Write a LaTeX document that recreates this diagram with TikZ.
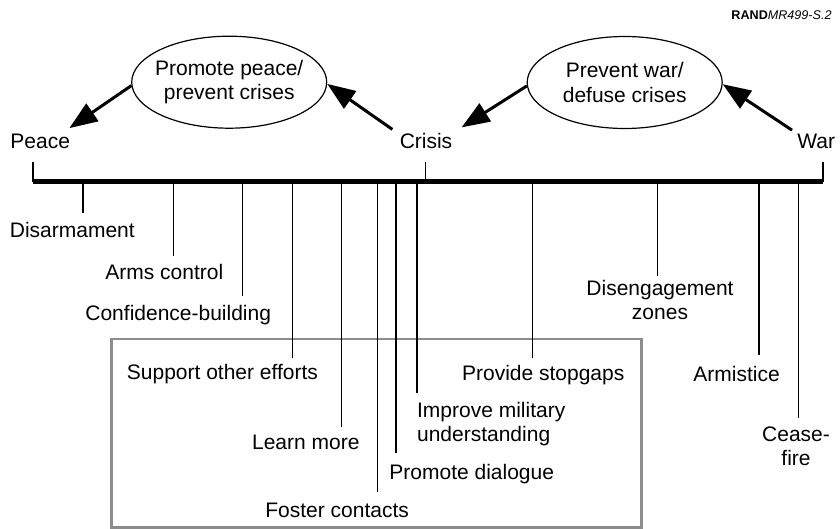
\documentclass[tikz,border=0pt]{standalone}
\usepackage{fontspec}
\setmainfont{Liberation Sans}
\usetikzlibrary{arrows.meta,shapes.geometric}
\begin{document}
\begin{tikzpicture}[x=0.5pt,y=-0.5pt,
  lbl/.style={inner sep=0pt, font=\fontsize{10.5pt}{11.8pt}\selectfont, align=left},
  lblc/.style={lbl, align=center},
  goal/.style={draw, line width=0.6pt, ellipse, minimum width=97.5pt, minimum height=46pt,
    inner xsep=-6pt, inner ysep=0pt, align=center, font=\fontsize{10.5pt}{12.2pt}\selectfont},
  axisline/.style={line width=2.3pt},
  tickline/.style={line width=0.75pt},
  arr/.style={line width=1.5pt, -{Triangle[length=14pt,width=10.5pt]}},
  effbox/.style={draw=black!45, line width=1.4pt}
]
\useasboundingbox (0,0) rectangle (840,529);

% figure id
\node[anchor=base east, inner sep=0pt, font=\fontsize{6.3pt}{7pt}\selectfont]
  (fig) at (832,19.5) {\textbf{RAND}\textit{MR499-S.2}};

% goals
\node[goal] (e1) at (229.2,82.2) {Promote peace/\\prevent crises};
\node[goal] (e2) at (624.7,82.5) {Prevent war/\\defuse crises};

% states
\node[lbl, anchor=base west] (peace) at (10,149) {Peace};
\node[lbl, anchor=base] (crisis) at (426,149) {Crisis};
\node[lbl, anchor=base west] (war) at (797,149) {War};

% arrows
\draw[arr] (e1.182) -- ([shift={(-1,-6)}]peace.north east);
\draw[arr] ([shift={(-7,-4)}]crisis.north west) -- (e1.359);
\draw[arr] (e2.182) -- ([shift={(9,-6)}]crisis.north east);
\draw[arr] ([shift={(-5,-4)}]war.north west) -- (e2.359);

% box of the less tangible functions
\draw[effbox] (111.5,339) rectangle (641.5,527.5);

% axis
\coordinate (axL) at (33,181.7);
\coordinate (axR) at (823,181.7);
\coordinate (axC) at (425.7,181.7);
\coordinate (upL) at (33,162);
\coordinate (upR) at (823,162);
\coordinate (upC) at (425.7,162);
\draw[tickline] (upL) -- (axL);
\draw[tickline] (upC) -- (axC);
\draw[tickline] (upR) -- (axR);
\draw[axisline] (axL) -- (axR);

% ticks below the axis
\foreach \n/\x/\b in {dis/83/213, arm/173.3/256, con/242.7/296, sup/292.7/358,
    lea/341.7/427, fos/377.5/492, pro/396.2/453, imp/417/393, sto/532.5/358,
    dze/657.7/276, ams/758.8/355, cea/798.7/418}{
  \coordinate (t\n) at (\x,181.7);
  \coordinate (b\n) at (\x,\b);
  \draw[tickline] (t\n) -- (b\n);
}

% labels (for two-line labels the base anchor is the last line's baseline)
\node[lbl, anchor=base west] (ldis) at (9.5,237.5) {Disarmament};
\node[lbl, anchor=base west] (larm) at (105,279) {Arms control};
\node[lbl, anchor=base west] (lcon) at (85,321) {Confidence-building};
\node[lbl, anchor=base west] (lsup) at (126.5,379) {Support other efforts};
\node[lbl, anchor=base west] (llea) at (251.7,449) {Learn more};
\node[lbl, anchor=base west] (lfos) at (265,517.5) {Foster contacts};
\node[lbl, anchor=base west] (lpro) at (389,479) {Promote dialogue};
\node[lbl, anchor=base west] (limp) at (416.7,441.5) {Improve military\\understanding};
\node[lbl, anchor=base west] (lsto) at (461.7,380.5) {Provide stopgaps};
\node[lblc, anchor=base] (ldze) at (660,319) {Disengagement\\zones};
\node[lbl, anchor=base west] (lams) at (693,381.5) {Armistice};
\node[lblc, anchor=base] (lcea) at (796,465.5) {Cease-\\fire};
\end{tikzpicture}
\end{document}
